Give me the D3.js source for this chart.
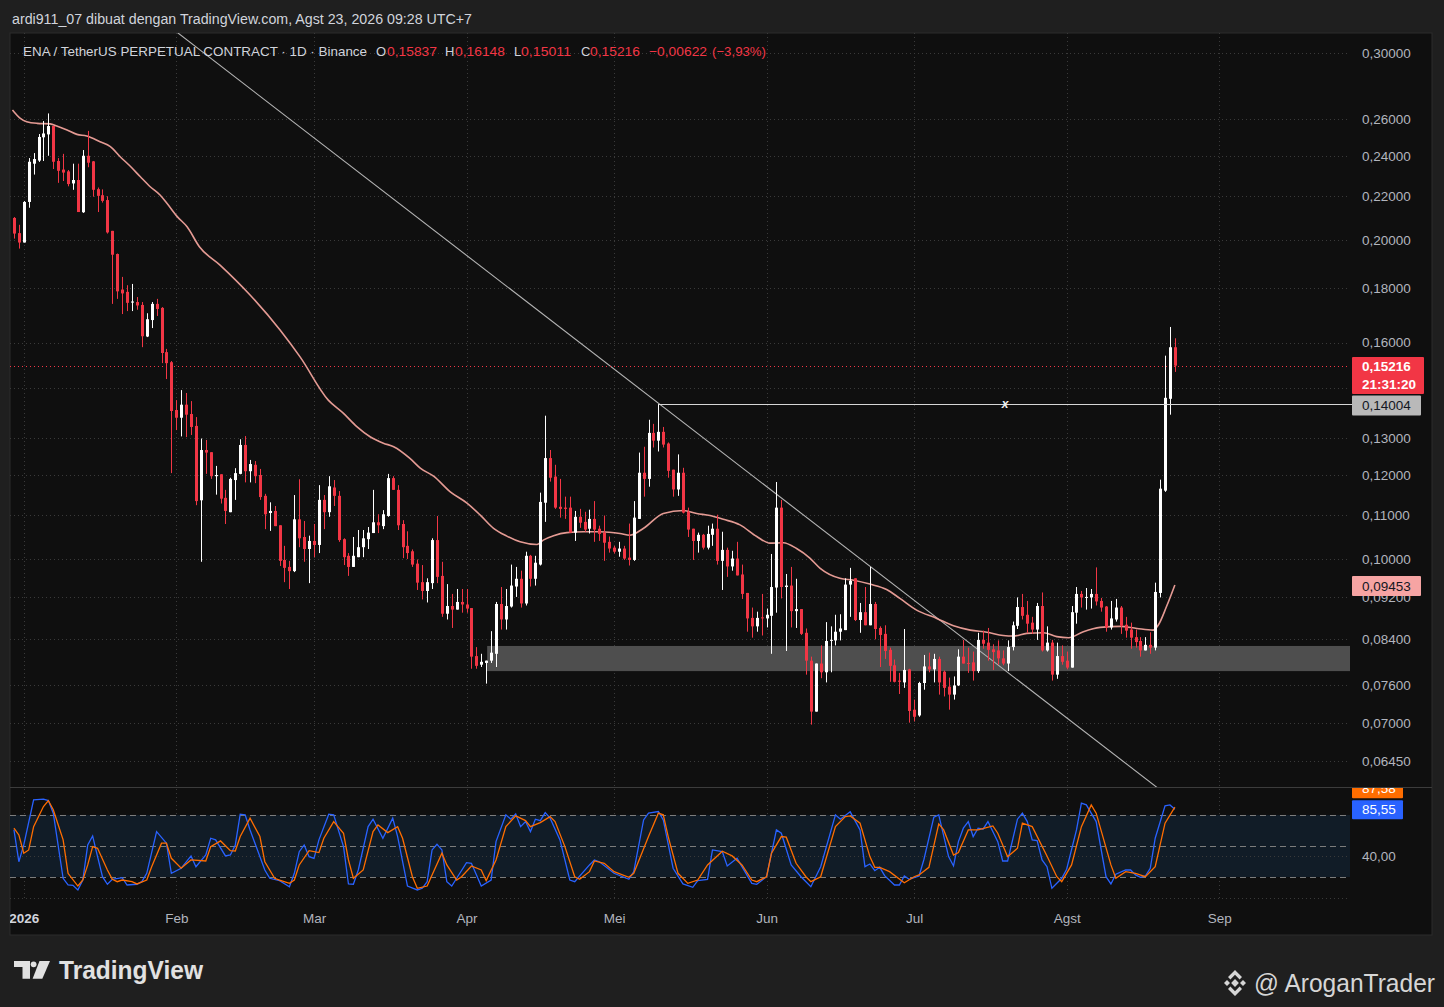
<!DOCTYPE html>
<html><head><meta charset="utf-8">
<script src="https://cdn.jsdelivr.net/npm/d3@7"></script>
<style>
html,body{margin:0;padding:0;background:#1f1f1f;overflow:hidden;}
svg{display:block;font-family:"Liberation Sans",Arial,sans-serif;}
</style></head><body>
<svg id="c" width="1444" height="1007"></svg>
<script>
// ---------- DATA ----------
const startDay = "2025-12-30";   // first daily candle
const opens = [
0.2097,0.2029,0.1988,0.2171,0.2359,0.2375,0.2498,0.2514,0.2560,0.2373,
0.2329,0.2320,0.2260,0.2277,0.2123,0.2400,0.2371,0.2232,0.2203,0.2180,
0.2039,0.1939,0.1795,0.1786,0.1745,0.1747,0.1736,0.1621,0.1680,0.1740,
0.1725,0.1567,0.1533,0.1382,0.1359,0.1398,0.1370,0.1335,0.1136,0.1267,
0.1261,0.1197,0.1202,0.1142,0.1107,0.1187,0.1203,0.1281,0.1210,0.1227,
0.1200,0.1147,0.1105,0.1110,0.1076,0.0998,0.0983,0.0974,0.1090,0.1049,
0.1022,0.1040,0.1031,0.1137,0.1107,0.1168,0.1147,0.1044,0.1007,0.0983,
0.1004,0.1026,0.1044,0.1058,0.1083,0.1074,0.1098,0.1192,0.1162,0.1079,
0.1029,0.1017,0.0990,0.0951,0.0933,0.0949,0.1042,0.0964,0.0888,0.0903,
0.0896,0.0911,0.0906,0.0899,0.0810,0.0795,0.0798,0.0802,0.0814,0.0907,
0.0877,0.0902,0.0942,0.0958,0.0908,0.1007,0.0958,0.0988,0.1130,0.1245,
0.1196,0.1120,0.1118,0.1118,0.1059,0.1096,0.1084,0.1068,0.1091,0.1068,
0.1059,0.1038,0.1025,0.1016,0.1023,0.1003,0.0998,0.1091,0.1206,0.1190,
0.1315,0.1293,0.1318,0.1285,0.1214,0.1163,0.1206,0.1108,0.1068,0.1040,
0.1054,0.1025,0.1054,0.1068,0.0996,0.1020,0.0984,0.1001,0.0967,0.0929,
0.0880,0.0864,0.0881,0.0879,0.0884,0.0940,0.1118,0.0941,0.0944,0.0893,
0.0897,0.0852,0.0802,0.0718,0.0797,0.0782,0.0838,0.0838,0.0854,0.0857,
0.0946,0.0959,0.0876,0.0891,0.0866,0.0907,0.0861,0.0850,0.0821,0.0794,
0.0768,0.0765,0.0787,0.0721,0.0712,0.0764,0.0792,0.0787,0.0805,0.0783,
0.0758,0.0745,0.0760,0.0809,0.0798,0.0799,0.0784,0.0839,0.0834,0.0822,
0.0820,0.0806,0.0797,0.0826,0.0865,0.0901,0.0886,0.0871,0.0858,0.0903,
0.0820,0.0834,0.0778,0.0810,0.0802,0.0790,0.0890,0.0927,0.0920,0.0920,
0.0927,0.0913,0.0902,0.0862,0.0877,0.0900,0.0867,0.0858,0.0844,0.0837,
0.0820,0.0830,0.0825,0.0929,0.1160,0.1416,0.15837];
const highs = [
0.2101,0.2066,0.2175,0.2388,0.2414,0.2516,0.2588,0.2631,0.2560,0.2388,
0.2410,0.2327,0.2359,0.2359,0.2430,0.2533,0.2373,0.2240,0.2231,0.2198,
0.2039,0.1941,0.1845,0.1812,0.1817,0.1766,0.1747,0.1705,0.1747,0.1759,
0.1728,0.1578,0.1537,0.1412,0.1443,0.1434,0.1409,0.1361,0.1299,0.1295,
0.1261,0.1224,0.1202,0.1162,0.1193,0.1218,0.1297,0.1306,0.1240,0.1237,
0.1216,0.1152,0.1131,0.1122,0.1076,0.1029,0.0996,0.1149,0.1189,0.1086,
0.1052,0.1079,0.1174,0.1149,0.1197,0.1187,0.1159,0.1046,0.1013,0.1049,
0.1065,0.1065,0.1072,0.1162,0.1102,0.1112,0.1203,0.1197,0.1174,0.1088,
0.1062,0.1021,0.0999,0.0987,0.0959,0.1046,0.1098,0.0994,0.0947,0.0927,
0.0937,0.0937,0.0937,0.0899,0.0826,0.0814,0.0802,0.0855,0.0911,0.0941,
0.0937,0.0988,0.0983,0.0975,0.1016,0.1009,0.1007,0.1155,0.1365,0.1267,
0.1227,0.1190,0.1145,0.1145,0.1110,0.1115,0.1108,0.1113,0.1134,0.1075,
0.1099,0.1050,0.1029,0.1038,0.1029,0.1080,0.1134,0.1260,0.1276,0.1353,
0.1341,0.1400,0.1332,0.1288,0.1214,0.1255,0.1219,0.1118,0.1068,0.1059,
0.1056,0.1075,0.1080,0.1101,0.1061,0.1025,0.1018,0.1038,0.0988,0.0929,
0.0900,0.0892,0.0927,0.0898,0.1011,0.1182,0.1137,0.0968,0.0983,0.0958,
0.0897,0.0860,0.0809,0.0797,0.0829,0.0872,0.0864,0.0886,0.0887,0.0959,
0.0981,0.0959,0.0909,0.0941,0.0983,0.0911,0.0864,0.0866,0.0825,0.0804,
0.0781,0.0859,0.0788,0.0737,0.0766,0.0812,0.0816,0.0814,0.0809,0.0785,
0.0773,0.0775,0.0822,0.0839,0.0825,0.0818,0.0852,0.0856,0.0861,0.0831,
0.0838,0.0820,0.0838,0.0873,0.0920,0.0927,0.0913,0.0882,0.0909,0.0930,
0.0864,0.0839,0.0834,0.0829,0.0818,0.0903,0.0941,0.0933,0.0939,0.0937,
0.0982,0.0919,0.0903,0.0913,0.0917,0.0903,0.0882,0.0871,0.0858,0.0844,
0.0844,0.0853,0.0950,0.1188,0.1555,0.1655,0.16148];
const lows = [
0.2005,0.1962,0.1988,0.2144,0.2304,0.2368,0.2373,0.2400,0.2332,0.2263,
0.2272,0.2246,0.2229,0.2124,0.2120,0.2341,0.2196,0.2124,0.2168,0.2027,
0.1740,0.1759,0.1702,0.1713,0.1713,0.1718,0.1584,0.1619,0.1651,0.1695,
0.1530,0.1478,0.1205,0.1323,0.1305,0.1303,0.1309,0.1124,0.0994,0.1203,
0.1190,0.1150,0.1128,0.1079,0.1107,0.1137,0.1202,0.1181,0.1181,0.1179,
0.1137,0.1067,0.1063,0.1074,0.0985,0.0951,0.0937,0.0972,0.1026,0.0994,
0.0949,0.1004,0.1013,0.1067,0.1096,0.1122,0.1038,0.0987,0.0964,0.0983,
0.1004,0.1004,0.1022,0.1058,0.1058,0.1067,0.1096,0.1162,0.1065,0.1002,
0.1000,0.0983,0.0935,0.0916,0.0910,0.0937,0.0949,0.0882,0.0877,0.0861,
0.0896,0.0890,0.0890,0.0788,0.0788,0.0791,0.0763,0.0798,0.0791,0.0858,
0.0858,0.0900,0.0921,0.0900,0.0904,0.0942,0.0944,0.0986,0.1084,0.1183,
0.1115,0.1094,0.1091,0.1059,0.1040,0.1070,0.1061,0.1057,0.1038,0.1040,
0.0996,0.1014,0.1012,0.1005,0.0998,0.0986,0.0996,0.1091,0.1145,0.1170,
0.1274,0.1263,0.1274,0.1193,0.1145,0.1147,0.1104,0.1049,0.0998,0.1014,
0.1021,0.1021,0.1029,0.0988,0.0935,0.0962,0.0975,0.0965,0.0917,0.0854,
0.0843,0.0854,0.0847,0.0862,0.0814,0.0890,0.0918,0.0819,0.0862,0.0861,
0.0848,0.0778,0.0698,0.0718,0.0772,0.0765,0.0782,0.0829,0.0838,0.0857,
0.0882,0.0874,0.0852,0.0866,0.0866,0.0840,0.0791,0.0805,0.0766,0.0765,
0.0746,0.0756,0.0701,0.0703,0.0710,0.0753,0.0782,0.0765,0.0745,0.0742,
0.0721,0.0737,0.0759,0.0797,0.0781,0.0768,0.0781,0.0823,0.0802,0.0786,
0.0795,0.0794,0.0784,0.0820,0.0859,0.0877,0.0852,0.0850,0.0839,0.0818,
0.0818,0.0768,0.0771,0.0795,0.0787,0.0790,0.0869,0.0900,0.0896,0.0898,
0.0904,0.0892,0.0854,0.0858,0.0873,0.0850,0.0843,0.0823,0.0825,0.0809,
0.0820,0.0814,0.0820,0.0920,0.1157,0.1368,0.15011];
const closes = [
0.2027,0.1988,0.2171,0.2369,0.2383,0.2500,0.2519,0.2560,0.2369,0.2323,
0.2314,0.2257,0.2277,0.2124,0.2400,0.2364,0.2229,0.2200,0.2176,0.2032,
0.1936,0.1788,0.1780,0.1744,0.1749,0.1734,0.1622,0.1683,0.1740,0.1721,
0.1564,0.1530,0.1379,0.1359,0.1398,0.1368,0.1332,0.1134,0.1267,0.1260,
0.1197,0.1200,0.1140,0.1110,0.1190,0.1205,0.1281,0.1210,0.1229,0.1197,
0.1144,0.1102,0.1110,0.1074,0.0996,0.0981,0.0974,0.1090,0.1046,0.1022,
0.1040,0.1031,0.1137,0.1107,0.1171,0.1147,0.1042,0.1004,0.0983,0.1007,
0.1026,0.1046,0.1059,0.1083,0.1076,0.1102,0.1192,0.1162,0.1076,0.1026,
0.1013,0.0988,0.0950,0.0933,0.0951,0.1042,0.0962,0.0888,0.0903,0.0896,
0.0911,0.0906,0.0898,0.0809,0.0793,0.0800,0.0802,0.0816,0.0907,0.0877,
0.0903,0.0944,0.0958,0.0908,0.1007,0.0958,0.0992,0.1132,0.1245,0.1193,
0.1118,0.1115,0.1115,0.1059,0.1096,0.1082,0.1066,0.1091,0.1066,0.1056,
0.1036,0.1023,0.1016,0.1023,0.1001,0.0998,0.1094,0.1206,0.1190,0.1315,
0.1293,0.1318,0.1282,0.1211,0.1163,0.1206,0.1106,0.1066,0.1040,0.1054,
0.1025,0.1056,0.1068,0.0996,0.1020,0.0984,0.1001,0.0965,0.0927,0.0879,
0.0864,0.0880,0.0880,0.0886,0.0941,0.1118,0.0941,0.0944,0.0893,0.0897,
0.0850,0.0802,0.0718,0.0797,0.0782,0.0837,0.0839,0.0854,0.0860,0.0946,
0.0954,0.0876,0.0891,0.0866,0.0907,0.0859,0.0848,0.0819,0.0793,0.0766,
0.0766,0.0786,0.0719,0.0710,0.0764,0.0792,0.0787,0.0805,0.0765,0.0756,
0.0745,0.0760,0.0809,0.0797,0.0797,0.0784,0.0839,0.0832,0.0821,0.0817,
0.0806,0.0797,0.0826,0.0866,0.0901,0.0884,0.0869,0.0858,0.0903,0.0820,
0.0834,0.0778,0.0810,0.0800,0.0790,0.0891,0.0927,0.0920,0.0921,0.0927,
0.0912,0.0900,0.0862,0.0879,0.0900,0.0865,0.0856,0.0843,0.0835,0.0820,
0.0830,0.0825,0.0931,0.1165,0.1419,0.15837,0.15216];

// moving average (candle index, value)
const maIdx = [-0.3,1.3,2.6,4.7,7.4,8.7,10.8,12.8,14.8,17.5,19.6,21.6,23.6,25.7,27.7,29.7,31.1,33.2,35.2,37.7,41.9,48.0,54.1,58.2,63.9,67.0,69.7,72.4,75.1,77.2,80.5,82.6,85.3,88.7,92.1,94.8,97.5,100.2,102.9,106.3,107.6,109.7,112.4,115.8,119.2,123.2,125.2,128.0,132.0,136.1,138.8,141.5,144.2,147.6,151.0,153.7,156.4,159.1,161.8,163.9,167.9,170.7,174.0,177.4,180.1,183.5,187.6,191.0,194.4,197.8,201.1,203.2,205.9,209.3,212.0,214.4,217.4,220.8,224.9,228.3,231.6,232.6,234.3,236.0];
const maVal = [0.2651,0.2603,0.2584,0.2575,0.2572,0.2560,0.2538,0.2514,0.2505,0.2474,0.2448,0.2395,0.2347,0.2293,0.2244,0.2204,0.2165,0.2103,0.2057,0.1970,0.1893,0.1774,0.1644,0.1550,0.1412,0.1372,0.1333,0.1304,0.1286,0.1276,0.1244,0.1218,0.1197,0.1157,0.1129,0.1100,0.1069,0.1051,0.1038,0.1032,0.1042,0.1052,0.1059,0.1061,0.1061,0.1057,0.1053,0.1069,0.1104,0.1111,0.1104,0.1099,0.1090,0.1077,0.1050,0.1035,0.1036,0.1023,0.1002,0.0980,0.0959,0.0955,0.0947,0.0936,0.0918,0.0895,0.0879,0.0865,0.0857,0.0853,0.0847,0.0846,0.0851,0.0852,0.0845,0.0843,0.0854,0.0862,0.0864,0.0860,0.0857,0.0866,0.0902,0.09453];

// stochastic %K (blue) and %D (orange), candle index -> value
const kIdx = [0,1,2,4,6,7,8,10,11,12,13,14,15,16,17,18,19,20,22,23,25,26,27,29,31,32,34,36,37,39,40,41,43,44,45,46,47,48,51,52,54,56,57,58,59,60,61,62,64,65,67,68,69,70,72,73,75,77,78,80,82,83,84,85,86,87,88,89,90,92,93,95,97,98,100,101,102,103,104,105,106,107,108,109,111,113,114,117,118,119,122,125,126,128,129,131,132,134,136,138,139,141,142,144,145,147,150,151,153,155,156,158,160,162,164,167,168,170,172,173,174,175,176,177,179,180,181,182,184,185,187,188,190,191,192,193,194,195,196,197,198,200,201,202,204,205,206,207,208,209,210,211,213,214,216,217,218,220,222,223,224,226,227,228,229,230,231,232,234,235,236];
const kVal = [65.7,34.8,51,94.6,95.3,93.9,81.7,18.8,12.3,12,7.5,17.1,51,59.7,39.7,20.3,13,17.8,19.4,12.3,13,15.5,23.6,63.9,52.7,23.6,28.5,40.4,30,41.3,57.5,55.9,40.4,41.3,51,80.7,80.1,65.5,26.8,18.8,16.5,10.6,23.6,44.5,51,39.7,38.1,55.9,80.7,80.1,49.4,13.3,13,26.8,68.7,75.9,57.5,76.9,59.1,11.3,7.5,9.1,15.5,46.2,51.7,46.2,15.5,11.3,18.8,33.9,33.3,11.3,17.1,54.2,80.1,75.9,81,68.7,73.6,63.9,75.9,74.5,82.3,76.9,55.9,17.1,15.5,31.7,36.5,34.8,23.6,17.8,25.2,75.2,81.7,83.3,75.2,28.5,13.3,10.1,16.5,17.8,46.2,44.5,30.7,38.1,13.9,13,20.3,65.5,62.3,31.7,20.3,10.6,30,80.1,75.9,83,65.5,30,32.6,26.1,29.4,21.3,12.3,12.3,21,17.8,21,37.2,77.8,80.1,39.7,30.7,54.2,67.2,73.6,59.1,67.2,66.2,73.6,54.2,35.5,35.5,75.9,81.7,73.6,55.9,55.2,36.5,30,9.1,18.8,27.5,65.5,91.4,89.7,73.6,20.3,13.3,22.7,26.8,26.8,22,19.7,21,28.5,57.5,88.8,89.7,85.55];
const dIdx = [0,1,2,3,4,6,7,8,10,11,13,14,15,16,17,19,20,21,22,24,25,27,28,30,31,32,34,35,36,39,40,42,44,45,46,48,50,51,53,54,56,57,58,60,62,63,65,67,68,69,71,73,74,76,78,79,81,82,84,85,87,88,90,91,93,95,96,98,100,102,104,105,107,109,110,112,114,115,117,118,120,122,125,126,129,131,132,133,135,137,139,141,144,146,148,150,151,153,154,156,157,159,161,162,164,167,169,170,172,174,175,176,178,181,183,184,186,188,189,191,192,194,196,199,200,202,204,205,207,210,212,213,215,217,219,220,223,224,226,228,230,232,234,236];
const dVal = [67.2,60.7,43,46.2,68.7,88.1,93.9,85,55.9,23.6,11.3,17.1,31.7,49.4,47.8,26.8,17.8,15.5,17.1,15.5,13.3,17.1,30,52.7,52.7,38.1,28.5,32.6,36.5,35.5,49.4,54.9,45.5,45.2,59.1,76.9,59.1,34.8,18.8,17.1,13.9,17.1,31.7,45.5,43.6,57.5,73.6,62.3,36.5,18.8,26.8,63.9,70.4,62.9,68.7,57.5,20.3,9.1,11.3,22,43,31.7,17.1,20.3,30.7,26.8,16.5,36.5,68.7,79.1,74.5,68.7,72.6,78.4,73.6,49.4,20.3,17.8,25.2,35.5,33.3,25.2,19.7,23.6,59.1,81.7,80.1,59.1,23.6,13.9,17.1,31.7,45,40.4,31.7,17.1,15.5,20.3,43,59.1,58.5,33.3,20.3,15.5,20.3,68.7,78.4,79.1,72,39.7,29.4,29.4,25.2,14.5,20.3,22,29.4,71.3,65.5,41.3,43.6,65.5,65.5,69.4,62.3,39.7,47.8,72,68.7,40.4,20.3,15.5,31.7,68.7,89.7,81.7,31.7,18.8,25.2,23.6,20.3,30,72,87.58];

const priceTicks = [0.30,0.26,0.24,0.22,0.20,0.18,0.16,0.13,0.12,0.11,0.10,0.092,0.084,0.076,0.070,0.0645];
const hiddenGridTicks = [0.145];
const monthTicks = ["2026-01-01","2026-02-01","2026-03-01","2026-04-01","2026-05-01","2026-06-01","2026-07-01","2026-08-01","2026-09-01"];
const monthLabels = ["2026","Feb","Mar","Apr","Mei","Jun","Jul","Agst","Sep"];
const zone = {top:0.0828, bottom:0.0784, fromIdx:96.2};
const trendAnchors = [[131.4,0.1398],[204.5,0.0766]];
const hLevel = {fromIdx:131, value:0.14004};
const lastPrice = 0.15216, countdown = "21:31:20";
const maLast = 0.09453;
const kLast = 85.55, dLast = 87.58;
const changeAbs = "−0,00622", changePct = "(−3,93%)";
const stochLevels = {upper:80, mid:50, lower:20};
const stochGrid = [40, 0];

// ---------- LAYOUT ----------
const W=1444,H=1007;
const L=10,R=1350,AX=1432,T=33,PB=787,SB=900,B=935;
const DAY=864e5;
const t0 = Date.parse(startDay+"T00:00:00Z");
const dateAt = i => new Date(t0 + i*DAY);
const FONT = '"Liberation Sans",Arial,sans-serif';

const svg = d3.select('#c');
svg.append('rect').attr('width',W).attr('height',H).attr('fill','#1f1f1f');
svg.append('rect').attr('x',L).attr('y',T).attr('width',AX-L).attr('height',B-T)
   .attr('fill','#0f0f0f').attr('stroke','#2c2c2c');

const defs = svg.append('defs');
defs.append('clipPath').attr('id','cp').append('rect').attr('x',L).attr('y',T).attr('width',R-L).attr('height',PB-T);
defs.append('clipPath').attr('id','cs').append('rect').attr('x',L).attr('y',PB).attr('width',R-L).attr('height',SB-PB);
defs.append('clipPath').attr('id','cf').append('rect').attr('x',L).attr('y',T).attr('width',AX-L).attr('height',B-T);
defs.append('clipPath').attr('id','csa').append('rect').attr('x',R).attr('y',PB+1).attr('width',AX-R).attr('height',SB-PB);

const x = d3.scaleUtc().domain([dateAt(-0.8), dateAt(271.6)]).range([L,R]);
const y = d3.scaleLog().domain([0.06096,0.3133]).range([PB,T]);
const ys = d3.scaleLinear().domain([-2.2,107]).range([SB,PB]);
const fmtP = v => v.toFixed(5).replace('.',',');
const fmtS = v => v.toFixed(2).replace('.',',');

const gridCol = '#3a3a3a';
// grid
const grid = svg.append('g');
grid.selectAll('.hg').data(priceTicks.concat(hiddenGridTicks)).join('line')
  .attr('x1',L).attr('x2',R).attr('y1',d=>Math.round(y(d))+0.5).attr('y2',d=>Math.round(y(d))+0.5)
  .attr('stroke',gridCol).attr('stroke-dasharray','1,3');
grid.selectAll('.vg').data(monthTicks).join('line')
  .attr('x1',d=>Math.round(x(new Date(d)))+0.5).attr('x2',d=>Math.round(x(new Date(d)))+0.5)
  .attr('y1',T).attr('y2',SB)
  .attr('stroke',gridCol).attr('stroke-dasharray','1,3');

// price pane
const pp = svg.append('g').attr('clip-path','url(#cp)');
pp.append('rect').attr('x',x(dateAt(zone.fromIdx))).attr('width',R-x(dateAt(zone.fromIdx)))
  .attr('y',y(zone.top)).attr('height',y(zone.bottom)-y(zone.top)).attr('fill','#4e4e4e');

// trend line
const p1=[x(dateAt(trendAnchors[0][0])),y(trendAnchors[0][1])];
const p2=[x(dateAt(trendAnchors[1][0])),y(trendAnchors[1][1])];
const ext = t => [p1[0]+(p2[0]-p1[0])*t, p1[1]+(p2[1]-p1[1])*t];
const e1=ext(-3), e2=ext(2);
pp.append('line').attr('x1',e1[0]).attr('y1',e1[1]).attr('x2',e2[0]).attr('y2',e2[1])
  .attr('stroke','#b4b4b4').attr('stroke-width',1.1);

// horizontal level
const hy = Math.round(y(hLevel.value))+0.5;
svg.append('line').attr('x1',x(dateAt(hLevel.fromIdx))).attr('x2',1352).attr('y1',hy).attr('y2',hy)
  .attr('stroke','#d6d6d6').attr('stroke-width',1);
svg.append('text').attr('x',1005).attr('y',hy+3.5).attr('text-anchor','middle')
  .attr('font-size',12).attr('font-style','italic').attr('font-weight','bold').attr('fill','#f0f0f0').text('x');

// last price dotted line
const lpY = Math.round(y(lastPrice))+0.5;
pp.append('line').attr('x1',L).attr('x2',R).attr('y1',lpY).attr('y2',lpY)
  .attr('stroke','#f23645').attr('stroke-dasharray','1,3');

// moving average
const maData = maIdx.map((d,i)=>[d,maVal[i]]);
pp.append('path').datum(maData)
  .attr('d',d3.line().x(d=>x(dateAt(d[0]))).y(d=>y(d[1])).curve(d3.curveMonotoneX))
  .attr('fill','none').attr('stroke','#f0a29b').attr('stroke-width',1.6).attr('stroke-opacity',0.95);

// candles
const candles = opens.map((o,i)=>({i,o,h:highs[i],l:lows[i],c:closes[i]}));
const cg = pp.append('g');
const up='#ffffff', dn='#f23645';
cg.selectAll('line.w').data(candles).join('line')
  .attr('x1',d=>Math.round(x(dateAt(d.i)))+0.5).attr('x2',d=>Math.round(x(dateAt(d.i)))+0.5)
  .attr('y1',d=>y(d.h)).attr('y2',d=>y(d.l))
  .attr('stroke',d=>d.c>=d.o?up:dn).attr('stroke-width',1);
cg.selectAll('rect.b').data(candles).join('rect')
  .attr('x',d=>Math.round(x(dateAt(d.i)))-1)
  .attr('width',3)
  .attr('y',d=>y(Math.max(d.o,d.c)))
  .attr('height',d=>Math.max(1,y(Math.min(d.o,d.c))-y(Math.max(d.o,d.c))))
  .attr('fill',d=>d.c>=d.o?up:dn);

// pane separator
svg.append('line').attr('x1',L).attr('x2',AX).attr('y1',PB+0.5).attr('y2',PB+0.5).attr('stroke','#3c3c3c');

// stoch pane
const sp = svg.append('g').attr('clip-path','url(#cs)');
sp.append('rect').attr('x',L).attr('width',R-L).attr('y',ys(stochLevels.upper))
  .attr('height',ys(stochLevels.lower)-ys(stochLevels.upper)).attr('fill','#111c27');
sp.selectAll('.sg').data(stochGrid).join('line')
  .attr('x1',L).attr('x2',R).attr('y1',d=>Math.round(ys(d))+0.5).attr('y2',d=>Math.round(ys(d))+0.5)
  .attr('stroke',gridCol).attr('stroke-dasharray','1,3');
sp.selectAll('.sl').data([stochLevels.upper,stochLevels.mid,stochLevels.lower]).join('line')
  .attr('x1',L).attr('x2',R).attr('y1',d=>Math.round(ys(d))+0.5).attr('y2',d=>Math.round(ys(d))+0.5)
  .attr('stroke','#7c7c7c').attr('stroke-dasharray','6,4');
const sline = d3.line().x(d=>x(dateAt(d[0]))).y(d=>ys(d[1]));
sp.append('path').datum(kIdx.map((d,i)=>[d,kVal[i]])).attr('d',sline)
  .attr('fill','none').attr('stroke','#2962ff').attr('stroke-width',1.3);
sp.append('path').datum(dIdx.map((d,i)=>[d,dVal[i]])).attr('d',sline)
  .attr('fill','none').attr('stroke','#ff6d00').attr('stroke-width',1.3);

// price axis
const pa = svg.append('g').attr('transform',`translate(${R},0)`)
  .call(d3.axisRight(y).tickValues(priceTicks).tickFormat(fmtP).tickSize(0).tickPadding(12));
pa.select('.domain').remove();
pa.selectAll('text').attr('fill','#b2b5be').attr('font-size',13.5).attr('font-family',FONT);

// stoch axis label
svg.append('text').attr('x',1362).attr('y',ys(40)+4.5).attr('fill','#b2b5be').attr('font-size',13.5).text(fmtS(40));

// time axis (outer group clips, inner group is translated)
const taOuter = svg.append('g').attr('clip-path','url(#cf)');
const ta = taOuter.append('g').attr('transform',`translate(0,${SB})`)
  .call(d3.axisBottom(x).tickValues(monthTicks.map(d=>new Date(d))).tickSize(0).tickPadding(13)
     .tickFormat((d,i)=>monthLabels[i]));
ta.select('.domain').remove();
ta.selectAll('text').attr('font-size',13.5).attr('font-family',FONT)
  .attr('font-weight',(d,i)=>i===0?'bold':'normal').attr('fill',(d,i)=>i===0?'#d1d4dc':'#b2b5be');

// axis value labels
function tag(yc, h, w, bg, fg, lines, bold, clip){
  const g = svg.append('g');
  if(clip) g.attr('clip-path',clip);
  g.append('rect').attr('x',1352).attr('y',yc-h/2).attr('width',w).attr('height',h).attr('fill',bg).attr('rx',1);
  lines.forEach((t,k)=>{
    g.append('text').attr('x',1362).attr('y',yc-h/2+ (h/lines.length)*(k+0.5)+4.5)
      .attr('fill',fg).attr('font-size',13.5).attr('font-weight',bold?'bold':'normal').text(t);
  });
}
tag(375.5, 37, 72, '#f23645', '#ffffff', [fmtP(lastPrice), countdown], true);
tag(405.5, 20, 69, '#b9b9b9', '#131722', [fmtP(hLevel.value)], false);
tag(586, 20, 69, '#f6a4a3', '#131722', [fmtP(maLast)], false);
// stoch labels are stacked (the upper one is pushed above and cut by the pane edge)
const kTagY = ys(kLast)+0.5;
tag(kTagY-21, 19, 51, '#ff6d00', '#ffffff', [fmtS(dLast)], false, 'url(#csa)');
tag(kTagY, 19, 51, '#2962ff', '#ffffff', [fmtS(kLast)], false, 'url(#csa)');

// header
svg.append('text').attr('x',12).attr('y',24).attr('fill','#d1d4dc').attr('font-size',14)
  .attr('textLength',460).attr('lengthAdjust','spacingAndGlyphs')
  .text('ardi911_07 dibuat dengan TradingView.com, Agst 23, 2026 09:28 UTC+7');

// legend
const last = candles.length-1;
const lg = svg.append('g').attr('font-size',13);
const seg = (xx,t,col,len) => { const e=lg.append('text').attr('x',xx).attr('y',55.5).attr('fill',col).text(t);
  if(len) e.attr('textLength',len).attr('lengthAdjust','spacingAndGlyphs'); };
const red='#f23645', lgc='#d1d4dc';
seg(23,'ENA / TetherUS PERPETUAL CONTRACT · 1D · Binance',lgc,344);
seg(376,'O',lgc); seg(387,fmtP(opens[last]),red,50);
seg(445,'H',lgc); seg(455,fmtP(highs[last]),red,50);
seg(514,'L',lgc); seg(521,fmtP(lows[last]),red,50);
seg(581,'C',lgc); seg(590,fmtP(closes[last]),red,50);
seg(649,changeAbs,red,58); seg(712,changePct,red,54);

// footer: TradingView logo
const ft = svg.append('g').attr('fill','#e1e1e1');
ft.append('path').attr('d','M14,961 H30 V978.7 H22.5 V967 H14 Z');
ft.append('circle').attr('cx',33.6).attr('cy',964.3).attr('r',2.9);
ft.append('path').attr('d','M39.5,961 H50 L42.3,978.7 H32.6 Z');
ft.append('text').attr('x',59).attr('y',979).attr('font-size',25).attr('font-weight','bold')
  .attr('textLength',144).attr('lengthAdjust','spacingAndGlyphs').text('TradingView');

// footer: Binance mark + author
const bn = svg.append('g').attr('fill','#d6d6d6').attr('transform','translate(1235,983)');
const dia = (cx,cy,s)=>bn.append('rect').attr('x',-s/2).attr('y',-s/2).attr('width',s).attr('height',s)
   .attr('transform',`translate(${cx},${cy}) rotate(45)`);
dia(0,0,5.5); dia(-8,0,4.2); dia(8,0,4.2);
bn.append('path').attr('d','M0,-13 L7,-6 L4.6,-3.6 L0,-8.2 L-4.6,-3.6 L-7,-6 Z');
bn.append('path').attr('d','M0,13 L7,6 L4.6,3.6 L0,8.2 L-4.6,3.6 L-7,6 Z');
svg.append('text').attr('x',1254).attr('y',992).attr('font-size',25).attr('fill','#d6d6d6')
  .attr('textLength',181).attr('lengthAdjust','spacingAndGlyphs').text('@ AroganTrader');
</script>
</body></html>
